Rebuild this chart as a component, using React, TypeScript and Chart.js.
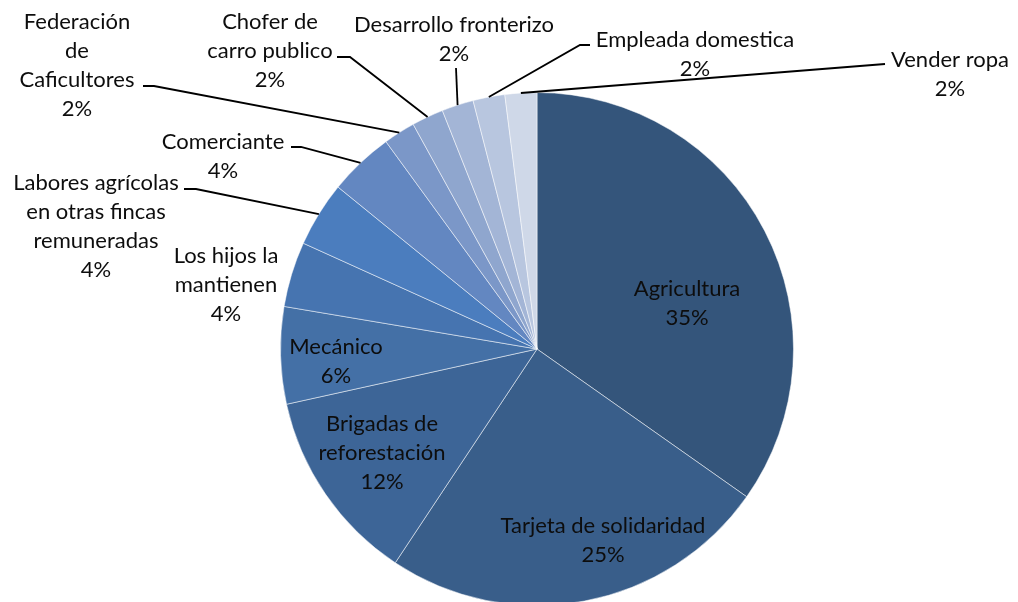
import React, { useEffect, useRef } from "react";
import { Chart, registerables } from "chart.js";

Chart.register(...registerables);

const categories = [
  "Agricultura",
  "Tarjeta de solidaridad",
  "Brigadas de reforestación",
  "Mecánico",
  "Los hijos la mantienen",
  "Labores agrícolas en otras fincas remuneradas",
  "Comerciante",
  "Federación de Caficultores",
  "Chofer de carro publico",
  "Desarrollo fronterizo",
  "Empleada domestica",
  "Vender ropa",
];

const values = [34.7, 24.5, 12.2, 6.1, 4.1, 4.1, 4.1, 2.0, 2.0, 2.0, 2.0, 2.0];

const colors = [
  "#34557b",
  "#395e8a",
  "#3d6597",
  "#4470a6",
  "#4674b0",
  "#4b7dbe",
  "#6387c1",
  "#7b97c8",
  "#8fa6ce",
  "#a3b5d6",
  "#b8c6df",
  "#cfd8e8",
];

const labelLines = [
  ["Agricultura"],
  ["Tarjeta de solidaridad"],
  ["Brigadas de", "reforestación"],
  ["Mecánico"],
  ["Los hijos la", "mantienen"],
  ["Labores agrícolas", "en otras fincas", "remuneradas"],
  ["Comerciante"],
  ["Federación", "de", "Caficultores"],
  ["Chofer de", "carro publico"],
  ["Desarrollo fronterizo"],
  ["Empleada domestica"],
  ["Vender ropa"],
];

const labelPos = [
  { x: 687, y: 289 },
  { x: 603, y: 526 },
  { x: 382, y: 424 },
  { x: 336, y: 347 },
  { x: 226, y: 256 },
  { x: 96, y: 183 },
  { x: 223, y: 142 },
  { x: 77, y: 22 },
  { x: 270, y: 22 },
  { x: 454, y: 25 },
  { x: 695, y: 40 },
  { x: 950, y: 60 },
];

const leaders: (number[][] | null)[] = [
  null,
  null,
  null,
  null,
  null,
  [[184, 189], [196, 189]],
  [[291, 147], [301, 147]],
  [[143, 86], [154, 86]],
  [[337, 57], [350, 57]],
  [[456, 68], [456, 68]],
  [[590, 45], [580, 45]],
  [[885, 64], [885, 64]],
];

const lineH = 29;

const labelPlugin = {
  id: "pieLabels",
  afterDatasetsDraw(chart: any) {
    const ctx = chart.ctx;
    const meta = chart.getDatasetMeta(0);
    const ds = chart.data.datasets[0];
    const total = (ds.data as number[]).reduce((a: number, b: number) => a + b, 0);
    ctx.save();
    ctx.font = '22px "Lato"';
    ctx.fillStyle = "#0d0d0d";
    ctx.textAlign = "center";
    ctx.textBaseline = "middle";
    meta.data.forEach((arc: any, i: number) => {
      const v = ds.data[i] as number;
      const pct = Math.round((v / total) * 100) + "%";
      const lines = [...labelLines[i], pct];
      const p = labelPos[i];
      lines.forEach((t, k) => ctx.fillText(t, p.x, p.y + k * lineH));
      const ld = leaders[i];
      if (ld) {
        const mid = (arc.startAngle + arc.endAngle) / 2;
        const ex = arc.x + Math.cos(mid) * arc.outerRadius;
        const ey = arc.y + Math.sin(mid) * arc.outerRadius;
        ctx.beginPath();
        ctx.strokeStyle = "#000";
        ctx.lineWidth = 1.8;
        ctx.moveTo(ld[0][0], ld[0][1]);
        ctx.lineTo(ld[1][0], ld[1][1]);
        ctx.lineTo(ex, ey);
        ctx.stroke();
      }
    });
    ctx.restore();
  },
};

export default function App() {
  const ref = useRef<HTMLCanvasElement>(null);
  useEffect(() => {
    const chart = new Chart(ref.current!, {
      type: "pie",
      data: {
        labels: categories,
        datasets: [
          {
            data: values,
            backgroundColor: colors,
            borderColor: "rgba(255,255,255,0.5)",
            borderWidth: 1,
          },
        ],
      },
      options: {
        responsive: false,
        animation: false,
        layout: { padding: { top: 92, bottom: 14, left: 280, right: 224 } },
        plugins: {
          legend: { display: false },
          tooltip: { enabled: false },
        },
      },
      plugins: [labelPlugin],
    });
    return () => chart.destroy();
  }, []);
  return (
    <div style={{ position: "absolute", left: 0, top: 0, width: 1018, height: 602, overflow: "hidden", background: "#fff" }}>
      <canvas ref={ref} width={1018} height={620} style={{ display: "block" }} />
    </div>
  );
}
